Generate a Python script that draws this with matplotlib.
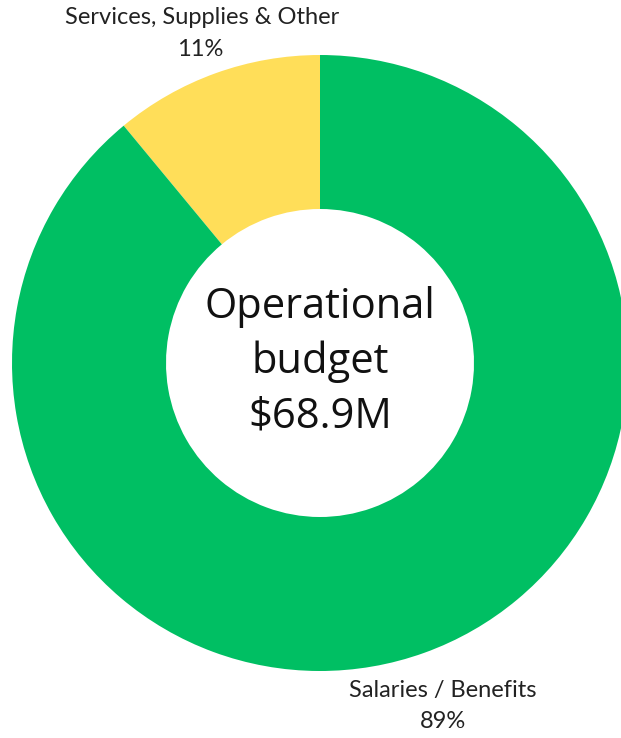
import matplotlib
matplotlib.use("Agg")
import matplotlib.pyplot as plt

labels = ["Services, Supplies & Other", "Salaries / Benefits"]
values = [11, 89]
colors = ["#FFDE59", "#00BF63"]
center_lines = ["Operational", "budget", "$68.9M"]

W, H = 621, 738
fig = plt.figure(figsize=(W / 100, H / 100), dpi=100)
ax = fig.add_axes([0, 0, 1, 1])
cx, cy, R = 320, H - 363, 308
ax.pie(values, colors=colors, startangle=90, counterclock=True,
       center=(cx, cy), radius=R,
       wedgeprops=dict(width=R * 0.5, linewidth=0))
ax.set_xlim(0, W)
ax.set_ylim(0, H)
ax.set_aspect("equal")
ax.axis("off")

lab_font = "Lato"
ax.text(202, H - 18, labels[0], ha="center", va="center", fontsize=17, family=lab_font, color="#222222")
ax.text(200, H - 50, f"{values[0]}%", ha="center", va="center", fontsize=17, family=lab_font, color="#222222")
ax.text(443, H - 690, labels[1], ha="center", va="center", fontsize=17, family=lab_font, color="#222222")
ax.text(443, H - 722, f"{values[1]}%", ha="center", va="center", fontsize=17, family=lab_font, color="#222222")

for i, line in enumerate(center_lines):
    ax.text(cx, H - (307 + 55 * i), line, ha="center", va="center", fontsize=30,
            family="Open Sans", color="#111111")

fig.savefig("out.png", dpi=100)
